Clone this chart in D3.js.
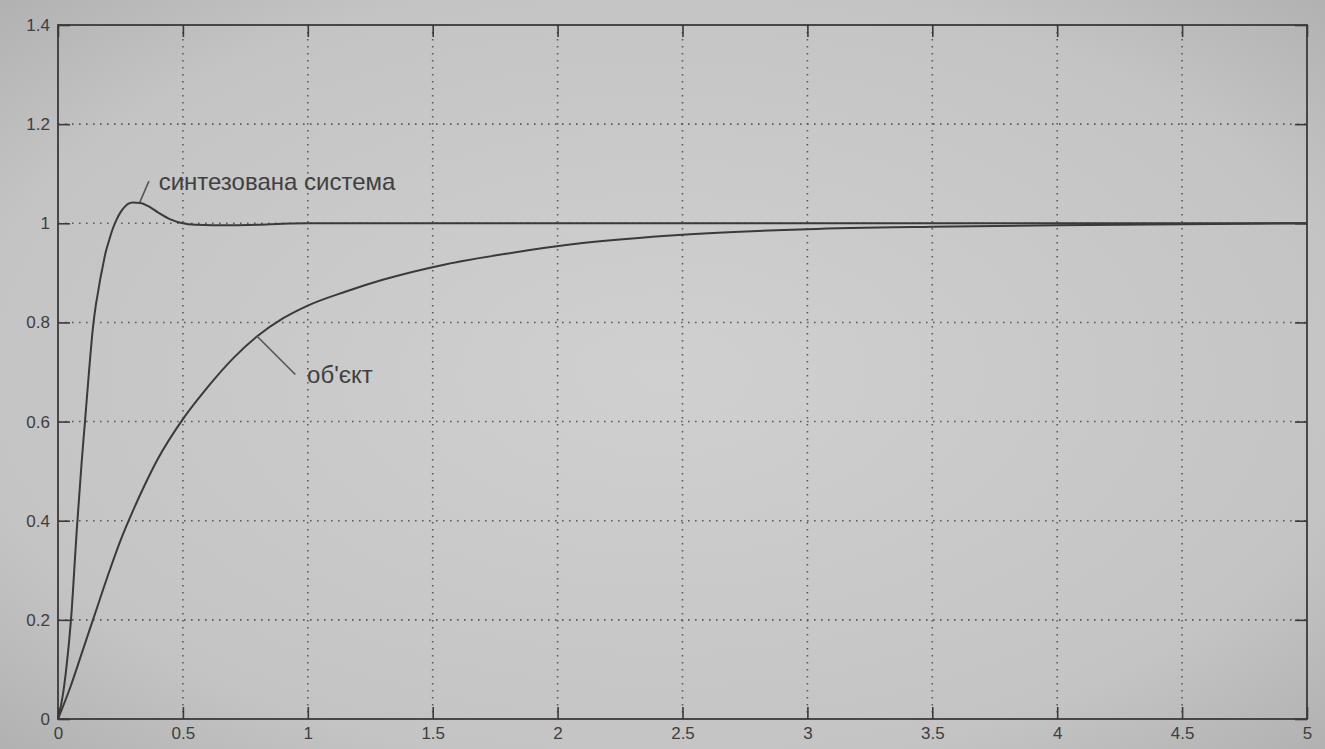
<!DOCTYPE html>
<html>
<head>
<meta charset="utf-8">
<script src="https://cdn.jsdelivr.net/npm/d3@7"></script>
<style>
  html, body { margin: 0; padding: 0; }
  svg { display: block; }
</style>
</head>
<body>
<svg width="1325" height="749"></svg>
<script>
// step responses
const synthT = [0, 0.02, 0.035, 0.045, 0.055, 0.065, 0.075, 0.085, 0.095, 0.108, 0.124, 0.14, 0.15, 0.16, 0.17, 0.18, 0.19, 0.2, 0.21, 0.22, 0.235, 0.25, 0.265, 0.28, 0.3, 0.33, 0.36, 0.4, 0.45, 0.5, 0.55, 0.62, 0.7, 0.8, 0.9, 1, 2, 3, 4, 5];
const synthY = [0, 0.05, 0.11, 0.16, 0.22, 0.3, 0.38, 0.45, 0.52, 0.6, 0.7, 0.79, 0.83, 0.86, 0.89, 0.915, 0.94, 0.958, 0.975, 0.99, 1.008, 1.022, 1.032, 1.039, 1.042, 1.041, 1.035, 1.022, 1.008, 1.0, 0.997, 0.996, 0.996, 0.997, 0.999, 1, 1, 1, 1, 1];

const objT = [0, 0.05, 0.1, 0.15, 0.2, 0.25, 0.3, 0.35, 0.4, 0.5, 0.6, 0.7, 0.8, 0.9, 1.0, 1.15, 1.3, 1.55, 1.8, 2.1, 2.5, 3, 3.5, 4, 4.5, 5];
const objY = [0, 0.065, 0.14, 0.215, 0.29, 0.36, 0.42, 0.475, 0.525, 0.605, 0.67, 0.727, 0.773, 0.808, 0.834, 0.862, 0.886, 0.917, 0.939, 0.96, 0.977, 0.988, 0.993, 0.996, 0.998, 1.0];

const xTicks = [0, 0.5, 1, 1.5, 2, 2.5, 3, 3.5, 4, 4.5, 5];
const yTicks = [0, 0.2, 0.4, 0.6, 0.8, 1, 1.2, 1.4];

const labels = ["синтезована система", "об'єкт"];

const svg = d3.select("svg"),
    width = +svg.attr("width"),
    height = +svg.attr("height");

const plotL = 58, plotR = 1307, plotT = 25, plotB = 719;

const x = d3.scaleLinear().domain([0, 5]).range([plotL, plotR]);
const y = d3.scaleLinear().domain([0, 1.4]).range([plotB, plotT]);

// photographed paper background
const defs = svg.append("defs");
const grad = defs.append("radialGradient")
    .attr("id", "paper")
    .attr("cx", "50%").attr("cy", "50%").attr("r", "75%");
grad.append("stop").attr("offset", "0%").attr("stop-color", "#d0d0d0");
grad.append("stop").attr("offset", "70%").attr("stop-color", "#c4c4c4");
grad.append("stop").attr("offset", "100%").attr("stop-color", "#adadad");

svg.append("rect")
    .attr("width", width)
    .attr("height", height)
    .attr("fill", "url(#paper)");

const ink = "#3a3a3a";

// dotted grid
const grid = svg.append("g")
    .attr("stroke", "#5a5a5a")
    .attr("stroke-width", 1.6)
    .attr("stroke-dasharray", "1.6,5.4");

grid.selectAll("line.gx")
    .data(xTicks.slice(1, -1))
    .join("line")
    .attr("class", "gx")
    .attr("x1", d => x(d)).attr("x2", d => x(d))
    .attr("y1", plotT).attr("y2", plotB);

grid.selectAll("line.gy")
    .data(yTicks.slice(1, -1))
    .join("line")
    .attr("class", "gy")
    .attr("y1", d => y(d)).attr("y2", d => y(d))
    .attr("x1", plotL).attr("x2", plotR);

// axes: ticks pointing inward on all four sides
const tickLen = 12;
const fmt = d => String(d);

const axisStyle = g => {
    g.select(".domain").remove();
    g.selectAll(".tick line").attr("stroke", ink).attr("stroke-width", 1.6);
    g.selectAll(".tick text")
        .attr("fill", "#3e3e3e")
        .attr("font-family", "'Liberation Sans', Arial, sans-serif")
        .attr("font-size", 17);
};

svg.append("g")
    .attr("transform", `translate(0,${plotB})`)
    .call(d3.axisBottom(x).tickValues(xTicks).tickFormat(fmt).tickSizeInner(-tickLen).tickSizeOuter(0).tickPadding(8))
    .call(axisStyle);

svg.append("g")
    .attr("transform", `translate(0,${plotT})`)
    .call(d3.axisTop(x).tickValues(xTicks).tickFormat("").tickSizeInner(-tickLen).tickSizeOuter(0))
    .call(axisStyle);

svg.append("g")
    .attr("transform", `translate(${plotL},0)`)
    .call(d3.axisLeft(y).tickValues(yTicks).tickFormat(fmt).tickSizeInner(-tickLen).tickSizeOuter(0).tickPadding(8))
    .call(axisStyle);

svg.append("g")
    .attr("transform", `translate(${plotR},0)`)
    .call(d3.axisRight(y).tickValues(yTicks).tickFormat("").tickSizeInner(-tickLen).tickSizeOuter(0))
    .call(axisStyle);

// box
svg.append("rect")
    .attr("x", plotL).attr("y", plotT)
    .attr("width", plotR - plotL).attr("height", plotB - plotT)
    .attr("fill", "none")
    .attr("stroke", ink)
    .attr("stroke-width", 1.8);

// curves
const line = d3.line()
    .x(d => x(d[0]))
    .y(d => y(d[1]))
    .curve(d3.curveMonotoneX);

const curves = [
    d3.zip(objT, objY),
    d3.zip(synthT, synthY)
];

svg.append("g")
    .attr("fill", "none")
    .attr("stroke", ink)
    .attr("stroke-width", 2)
    .selectAll("path")
    .data(curves)
    .join("path")
    .attr("d", line);

// annotations with leader lines
const notes = [
    {text: labels[0], at: [0.327, 1.042], end: [0.364, 1.085], tx: 0.403, ty: 1.083},
    {text: labels[1], at: [0.797, 0.772], end: [0.95, 0.695], tx: 0.997, ty: 0.694}
];

const note = svg.append("g");

note.selectAll("line")
    .data(notes)
    .join("line")
    .attr("x1", d => x(d.at[0])).attr("y1", d => y(d.at[1]))
    .attr("x2", d => x(d.end[0])).attr("y2", d => y(d.end[1]))
    .attr("stroke", "#555")
    .attr("stroke-width", 1.6);

note.selectAll("text")
    .data(notes)
    .join("text")
    .attr("x", d => x(d.tx))
    .attr("y", d => y(d.ty))
    .attr("dy", "0.32em")
    .attr("fill", "#404040")
    .attr("font-family", "'Liberation Sans', Arial, sans-serif")
    .attr("font-size", 24)
    .text(d => d.text);
</script>
</body>
</html>
